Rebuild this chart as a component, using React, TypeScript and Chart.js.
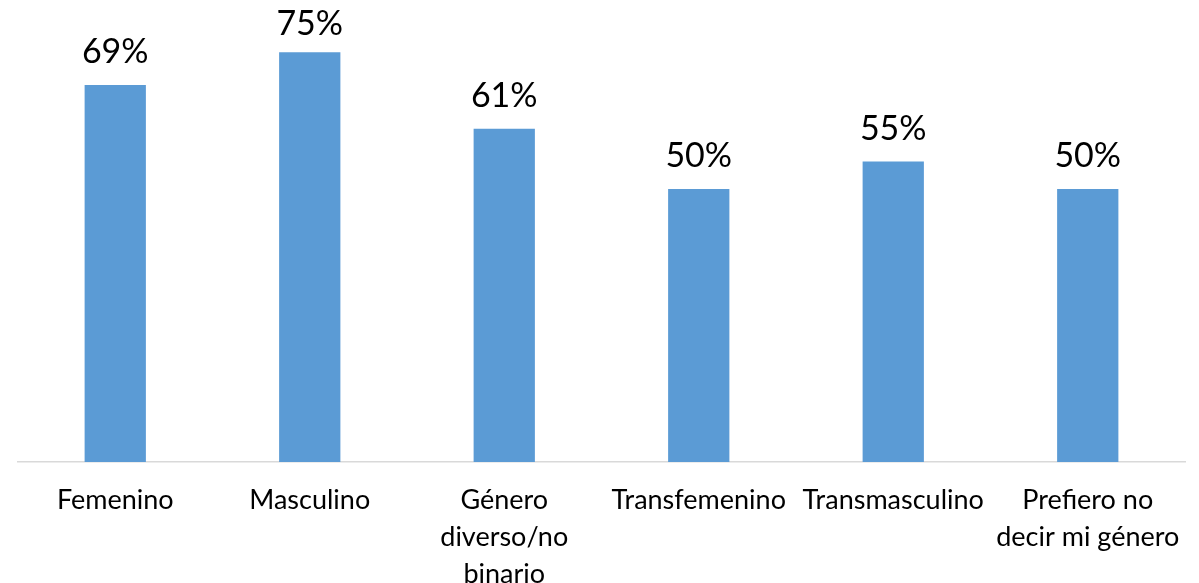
import React, { useEffect, useRef } from "react";
import { Chart, registerables } from "chart.js";

Chart.register(...registerables);

const categories: (string | string[])[] = [
  "Femenino",
  "Masculino",
  ["Género", "diverso/no", "binario"],
  "Transfemenino",
  "Transmasculino",
  ["Prefiero no", "decir mi género"],
];
const values = [69, 75, 61, 50, 55, 50];
const yMax = 80;

const FONT = "Lato, 'Open Sans', sans-serif";

const dataLabels = {
  id: "dataLabels",
  afterDatasetsDraw(chart: any) {
    const ctx = chart.ctx;
    const meta = chart.getDatasetMeta(0);
    ctx.save();
    ctx.font = `34px ${FONT}`;
    ctx.fillStyle = "#000";
    ctx.textAlign = "center";
    ctx.textBaseline = "alphabetic";
    meta.data.forEach((bar: any, i: number) => {
      const y = Math.max(bar.y - 22, 35);
      ctx.fillText(`${values[i]}%`, bar.x, y);
    });
    ctx.restore();
  },
};

export default function App() {
  const ref = useRef<HTMLCanvasElement>(null);
  useEffect(() => {
    if (!ref.current) return;
    const chart = new Chart(ref.current, {
      type: "bar",
      data: {
        labels: categories,
        datasets: [
          {
            data: values,
            backgroundColor: "#5B9BD5",
            borderWidth: 0,
            categoryPercentage: 1,
            barPercentage: 0.315,
          },
        ],
      },
      options: {
        responsive: false,
        animation: false,
        layout: { padding: { left: 18, right: 14, top: 25, bottom: 0 } },
        plugins: {
          legend: { display: false },
          tooltip: { enabled: false },
        },
        scales: {
          x: {
            grid: { display: false },
            border: { display: true, color: "#d9d9d9", width: 1.5 },
            ticks: {
              color: "#000",
              font: { family: FONT, size: 27, lineHeight: 37 / 27 },
              padding: 12,
              maxRotation: 0,
              autoSkip: false,
            },
            afterFit(scale: any) {
              scale.height = 121;
            },
          },
          y: {
            display: false,
            min: 0,
            max: yMax,
          },
        },
      },
      plugins: [dataLabels],
    });
    return () => chart.destroy();
  }, []);
  return (
    <div style={{ position: "absolute", left: 0, top: 0, background: "#fff" }}>
      <canvas ref={ref} width={1199} height={583} style={{ display: "block" }} />
    </div>
  );
}
